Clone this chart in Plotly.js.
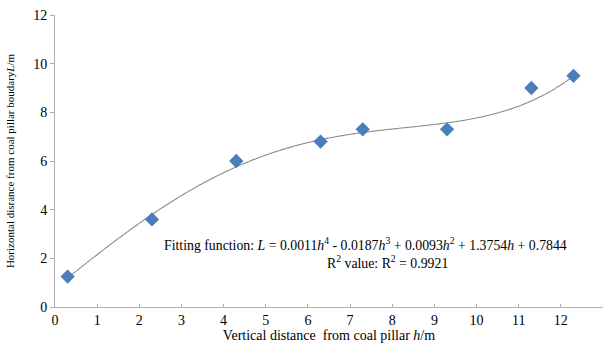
<!DOCTYPE html>
<html>
<head>
<meta charset="utf-8">
<script src="https://cdn.plot.ly/plotly-3.0.1.min.js"></script>
<style>html,body{margin:0;padding:0;background:#fff}#chart{width:608px;height:350px}</style>
</head>
<body>
<div id="chart"></div>
<script>
// Data
const hValues = [0.3, 2.3, 4.3, 6.3, 7.3, 9.3, 11.3, 12.3];
const lValues = [1.25, 3.6, 6.0, 6.8, 7.3, 7.3, 9.0, 9.5];
// Polynomial trendline coefficients shown in the chart (h^4, h^3, h^2, h, const)
const fitCoefficients = [0.0011, -0.0187, 0.0093, 1.3754, 0.7844];
const rSquared = 0.9921;
const xTickValues = [0,1,2,3,4,5,6,7,8,9,10,11,12,13];
const yTickValues = [0,2,4,6,8,10,12];

// Trendline sampled across the data range
const hMin = Math.min(...hValues), hMax = Math.max(...hValues);
const fitX = [], fitY = [];
const steps = 200;
for (let i = 0; i <= steps; i++) {
  const h = hMin + (hMax - hMin) * i / steps;
  let v = 0;
  for (let k = 0; k < fitCoefficients.length; k++) v = v * h + fitCoefficients[k];
  fitX.push(h); fitY.push(v);
}

const font = 'Liberation Serif, Times New Roman, serif';
const fmtTerm = (c, sup) => {
  const s = Math.abs(c).toFixed(4);
  return s + (sup === 0 ? '' : (sup === 1 ? '<i>h</i>' : '<i>h</i><sup>' + sup + '</sup>'));
};
let eq = 'Fitting function: <i>L</i> = ' + fmtTerm(fitCoefficients[0], 4);
for (let k = 1; k < fitCoefficients.length; k++) {
  const c = fitCoefficients[k];
  eq += (c < 0 ? ' - ' : ' + ') + fmtTerm(c, 4 - k);
}

const traces = [
  {x: fitX, y: fitY, mode: 'lines', line: {color: '#8c8c8c', width: 1.1, shape: 'spline'}, hoverinfo: 'skip', showlegend: false},
  {x: hValues, y: lValues, mode: 'markers', marker: {symbol: 'diamond', size: 11, color: '#4A7EBB'}, showlegend: false}
];

const layout = {
  width: 608, height: 350,
  margin: {l: 55, r: 5, t: 15, b: 43},
  paper_bgcolor: '#fff', plot_bgcolor: '#fff',
  font: {family: font, size: 14, color: '#000'},
  showlegend: false,
  xaxis: {
    range: [0, 13], tickvals: xTickValues, ticktext: xTickValues.map(String),
    showgrid: false, zeroline: false, showline: true, linecolor: '#b0b0b0', linewidth: 1,
    ticks: 'inside', ticklen: 3, tickcolor: '#b0b0b0', tickfont: {family: font, size: 14},
    title: {text: 'Vertical distance  from coal pillar <i>h</i>/m', font: {family: font, size: 14}, standoff: 3}
  },
  yaxis: {
    range: [0, 12], tickvals: yTickValues, ticktext: yTickValues.map(String),
    showgrid: false, zeroline: false, showline: true, linecolor: '#b0b0b0', linewidth: 1,
    ticks: 'outside', ticklen: 4, tickcolor: '#b0b0b0', tickfont: {family: font, size: 14},
    title: {text: 'Horizontal disrance from coal pillar boudary<i>L</i>/m', font: {family: font, size: 11}, standoff: 16}
  },
  annotations: [
    {xref: 'paper', yref: 'paper', x: (365-55)/548, y: (307-244)/292, xanchor: 'center', yanchor: 'middle',
     text: eq, showarrow: false, font: {family: font, size: 13.8}},
    {xref: 'paper', yref: 'paper', x: (387-55)/548, y: (307-262)/292, xanchor: 'center', yanchor: 'middle',
     text: 'R<sup>2</sup> value: R<sup>2</sup> = ' + rSquared.toFixed(4), showarrow: false, font: {family: font, size: 13.8}}
  ]
};

Plotly.newPlot('chart', traces, layout, {staticPlot: true, displayModeBar: false});
</script>
</body>
</html>
